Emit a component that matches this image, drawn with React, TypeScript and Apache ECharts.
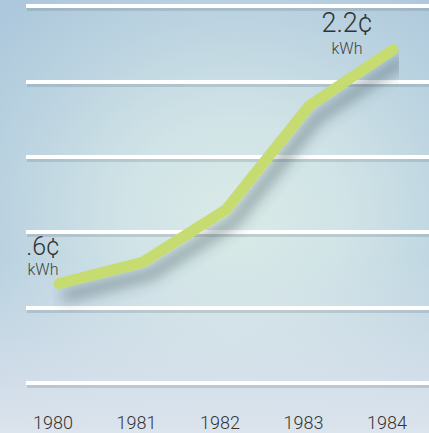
import React, { useEffect, useRef } from "react";
import * as echarts from "echarts";

const years = ["1980", "1981", "1982", "1983", "1984"];
const pricePerKwh = [0.66, 0.8, 1.15, 1.84, 2.21];
const startLabel = ".6¢";
const endLabel = "2.2¢";
const unitLabel = "kWh";

const FONT = "Roboto, 'Liberation Sans', Arial, sans-serif";

const gridAxis = (gridIndex: number, color: string) => ({
  type: "value",
  gridIndex,
  min: 0,
  max: 2.5,
  interval: 0.5,
  axisLine: { show: false },
  axisTick: { show: false },
  axisLabel: { show: false },
  splitLine: { show: true, lineStyle: { color, width: 4 } },
});

export default function App() {
  const ref = useRef<HTMLDivElement>(null);
  useEffect(() => {
    document.body.style.margin = "0";
    if (!ref.current) return;
    const chart = echarts.init(ref.current, null, { renderer: "svg" });
    const lastIdx = pricePerKwh.length - 1;
    const seriesData = pricePerKwh.map((v, i) => {
      if (i === 0) {
        return {
          value: v,
          label: {
            show: true,
            position: "top",
            offset: [-16, 0],
            formatter: `{a|${startLabel}}\n{b|${unitLabel}}`,
            rich: {
              a: { fontSize: 25, lineHeight: 28, fontWeight: 300, color: "#333", fontFamily: FONT, align: "center" },
              b: { fontSize: 16, lineHeight: 17, fontWeight: 300, color: "#444", fontFamily: FONT, align: "center" },
            },
          },
        };
      }
      if (i === lastIdx) {
        return {
          value: v,
          label: {
            show: true,
            position: "top",
            offset: [-46, 13],
            formatter: `{a|${endLabel}}\n{b|${unitLabel}}`,
            rich: {
              a: { fontSize: 27, lineHeight: 32, fontWeight: 300, color: "#333", fontFamily: FONT, align: "center" },
              b: { fontSize: 16, lineHeight: 18, fontWeight: 300, color: "#444", fontFamily: FONT, align: "center" },
            },
          },
        };
      }
      return { value: v };
    });
    chart.setOption({
      animation: false,
      backgroundColor: "transparent",
      grid: [
        { left: 27, right: -2, top: 9, bottom: 47 },
        { left: 26, right: 0, top: 6, bottom: 50 },
        { left: 59, right: 36, top: 6, bottom: 50 },
      ],
      xAxis: [
        { type: "value", gridIndex: 0, min: 0, max: 1, show: false },
        { type: "value", gridIndex: 1, min: 0, max: 1, show: false },
        {
          type: "category",
          gridIndex: 2,
          data: years,
          boundaryGap: false,
          axisLine: { show: false },
          axisTick: { show: false },
          splitLine: { show: false },
          axisLabel: {
            color: "#333",
            fontSize: 18,
            fontWeight: 300,
            fontFamily: FONT,
            margin: 30,
            padding: [0, 12, 0, 0],
          },
        },
      ],
      yAxis: [
        gridAxis(0, "rgba(95,115,125,0.22)"),
        gridAxis(1, "#ffffff"),
        {
          type: "value",
          gridIndex: 2,
          min: 0,
          max: 2.5,
          interval: 0.5,
          axisLine: { show: false },
          axisTick: { show: false },
          axisLabel: { show: false },
          splitLine: { show: false },
        },
      ],
      series: [
        { type: "line", xAxisIndex: 0, yAxisIndex: 0, data: [], silent: true },
        { type: "line", xAxisIndex: 1, yAxisIndex: 1, data: [], silent: true },
        {
          type: "line",
          xAxisIndex: 2,
          yAxisIndex: 2,
          data: seriesData,
          showSymbol: true,
          symbol: "circle",
          symbolSize: 1,
          itemStyle: { color: "rgba(0,0,0,0)", borderWidth: 0 },
          lineStyle: {
            color: "#c6dc70",
            width: 11,
            cap: "round",
            join: "round",
            shadowColor: "rgba(50,70,80,0.45)",
            shadowBlur: 14,
            shadowOffsetX: 8,
            shadowOffsetY: 12,
          },
          emphasis: { disabled: true },
          z: 5,
        },
      ],
    });
    return () => chart.dispose();
  }, []);
  return (
    <div
      ref={ref}
      style={{
        width: 429,
        height: 433,
        background:
          "linear-gradient(to top, rgba(220,228,237,1) 0%, rgba(220,228,237,0.6) 18%, rgba(220,228,237,0) 40%), radial-gradient(ellipse 75% 65% at 55% 50%, #d9eae7 0%, #d0e3e6 35%, #bcd4e1 70%, #adc8dc 100%)",
      }}
    />
  );
}
